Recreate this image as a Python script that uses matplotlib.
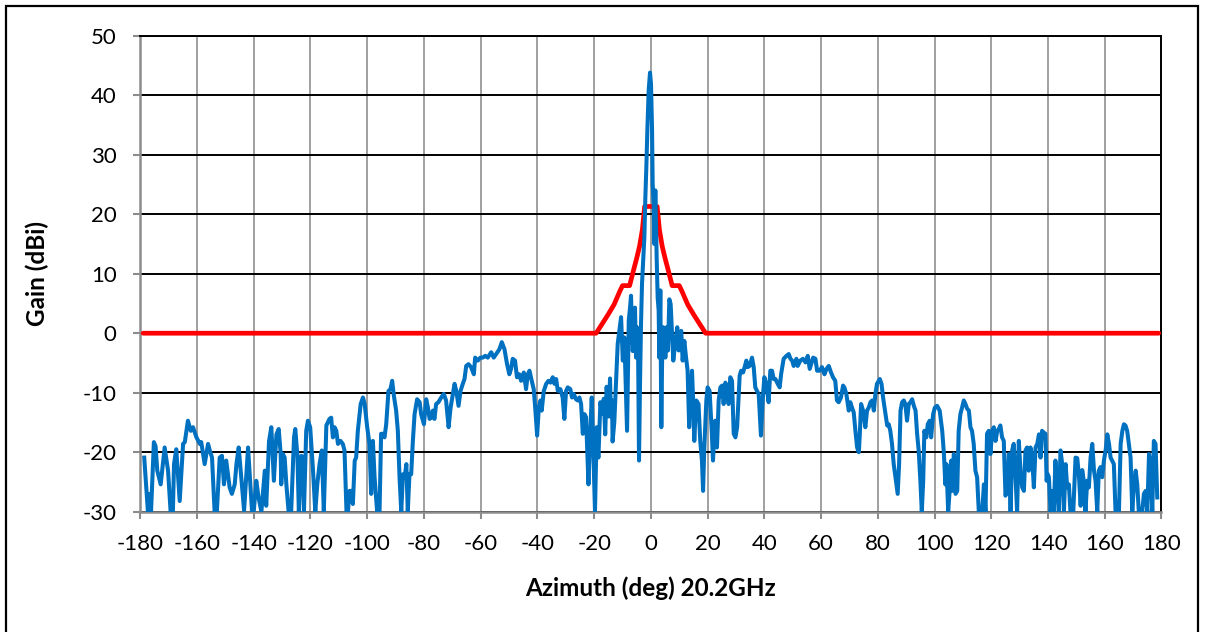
"""Antenna azimuth pattern at 20.2 GHz: measured gain vs. regulatory mask."""

import matplotlib

matplotlib.use("Agg")
import matplotlib.pyplot as plt
import numpy as np
from matplotlib.patches import Rectangle

plt.rcParams["font.family"] = ["Lato", "DejaVu Sans"]
plt.rcParams["axes.unicode_minus"] = False

# measured pattern, left sidelobes (deg, dBi)
left_az = [
    -178.6, -177.3, -176.7, -176.2, -175.2, -174.6, -174.0, -172.8, -171.4, -170.2,
    -169.3, -168.5, -168.1, -167.3, -166.1, -164.9, -164.3, -163.2, -162.2, -161.4,
    -160.2, -159.0, -158.5, -157.3, -156.1, -155.5, -154.7, -153.8, -153.0, -152.0,
    -151.2, -150.5, -149.7, -148.5, -147.7, -146.7, -146.1, -145.3, -144.6, -143.4,
    -142.0, -140.6, -140.0, -139.1, -138.3, -137.3, -136.1, -135.6, -134.6, -133.8,
    -132.9, -132.0, -131.2, -130.5, -130.3, -129.7, -129.1, -128.5, -127.7, -126.8,
    -125.8, -125.35, -124.6, -124.1, -123.2, -122.65, -122.3, -121.5, -120.9, -120.1,
    -119.1, -118.3, -117.6, -116.8, -116.0, -115.3, -114.4, -113.3, -112.7, -112.1,
    -111.5, -110.9, -110.3, -109.4, -108.6, -108.0, -107.3, -106.8, -106.2, -105.4,
    -105.05, -104.4, -103.9, -103.3, -102.3, -101.5, -100.9, -100.0, -99.2, -98.6,
    -98.0, -97.4, -96.5, -95.65, -95.1, -94.5, -93.9, -93.3, -92.5, -91.8,
    -91.2, -90.6, -89.8, -89.2, -88.6, -88.0, -87.4, -86.8, -86.2, -85.7,
    -85.1, -84.5, -83.9, -83.3, -82.4, -81.5, -81.0, -80.0, -79.2, -78.6,
    -78.0, -77.4, -76.85, -76.3, -75.7, -74.9, -73.9, -73.0, -72.2, -71.3,
    -70.6, -69.8, -69.2, -68.6, -67.8, -67.1, -66.3, -65.7, -65.1, -64.3,
    -63.4, -62.4, -61.95, -61.0, -60.1, -59.25, -58.4, -57.5, -56.3, -55.4,
    -54.55, -53.4, -52.55, -51.6, -50.7, -49.9, -49.3, -48.7, -47.9, -47.2,
    -46.4, -45.75, -44.8, -44.0, -43.4, -42.8, -42.0, -41.3, -40.7, -40.1,
    -39.5, -38.9, -38.5, -37.75, -36.9, -36.1, -35.4, -34.6, -34.0, -33.4,
    -32.8, -31.9, -31.1, -30.5, -29.9, -29.3, -28.4, -27.8, -27.2, -26.4,
    -25.8, -25.2, -24.6, -24.0, -23.4, -22.85, -22.0, -21.4, -20.85, -20.26,
]
left_gain = [
    -20.9, -30, -27, -30, -18.3, -19, -23.1, -25.4, -19.2, -23.1,
    -30, -30, -22, -19.5, -28.2, -18.6, -18.3, -14.7, -16.4, -15.8,
    -17.5, -18.6, -18.3, -22, -18.6, -19.7, -20.9, -30, -30, -20.9,
    -20.6, -25.4, -21.4, -25.9, -27, -25.4, -22, -19.2, -23.1, -29.8,
    -19.2, -30, -30, -24.8, -27.6, -30, -23.1, -29, -18.1, -15.8,
    -24.8, -17.0, -16.1, -20.3, -25.4, -20.3, -20.9, -25.4, -30, -30,
    -17.5, -16.1, -20.6, -30, -20.6, -20.9, -30, -16.4, -14.7, -15.8,
    -23.1, -30, -25.4, -22, -19.7, -30, -15.5, -14.4, -14.2, -17.5,
    -15.8, -16.4, -18.6, -18.1, -18.6, -19.7, -30, -30, -26.5, -26.5,
    -28.7, -21.4, -20.9, -16.4, -11.9, -10.8, -11.9, -15.8, -18.6, -27,
    -18.1, -24.2, -30, -30, -16.9, -16.9, -17.5, -15.3, -9.7, -9.4,
    -8.0, -10.5, -13, -16.4, -24.2, -30, -23.7, -24.2, -22, -30,
    -23.7, -23.7, -18.1, -13.6, -11.1, -11.6, -13.6, -15.3, -11.1, -12.5,
    -14.4, -14.2, -13, -14.4, -11.9, -11.6, -10.8, -10.2, -11.3, -15.8,
    -12.5, -10.2, -8.5, -9.7, -12.2, -9.7, -8.5, -7.7, -5.5, -5.2,
    -5.7, -6.9, -4.1, -4.6, -4.1, -4.1, -3.8, -4.1, -3.2, -4.1,
    -3.5, -2.7, -1.5, -2.7, -5.2, -6.9, -6.0, -4.3, -4.6, -7.4,
    -6.9, -8.0, -6.6, -9.4, -6.9, -6.3, -8.0, -9.4, -13.0, -17.2,
    -12.5, -11.3, -13.0, -9.7, -8.5, -8.0, -8.3, -7.4, -8.5, -7.7,
    -9.7, -9.4, -10.8, -14.4, -9.7, -9.1, -9.4, -10.8, -10.2, -11.1,
    -11.3, -10.8, -11.9, -16.9, -13.6, -14.1, -25.4, -16.9, -10.8, -20.3,
]

# measured pattern, main lobe region
main_az = [
    -19.7, -19.1, -18.5, -17.8, -17.2, -16.6, -16.1, -15.6, -14.9, -14.4,
    -14.05, -13.7, -13.5, -12.9, -12.3, -11.7, -11.1, -10.5, -9.9, -9.35,
    -9.0, -8.4, -7.8, -7.35, -7.0, -6.65, -6.4, -6.06, -5.6, -5.24,
    -4.9, -4.5, -4.18, -3.83, -3.48, -3.13, -2.66, -2.3, -1.95, -1.6,
    -1.25, -0.78, -0.31, 0.04, 0.4, 0.63, 0.98, 1.2, 1.57, 2.04,
    2.39, 2.74, 2.98, 3.33, 3.68, 4.03, 4.4, 4.74, 5.1, 5.56,
    6.03, 6.5, 6.97, 7.4, 7.9, 8.4, 8.85, 9.3, 9.8, 10.25,
    10.7, 11.2, 11.8, 12.4, 12.95, 13.5, 13.9,
]
main_gain = [
    -30, -15.8, -20.9, -11.6, -13.5, -11, -17, -9, -14, -7.6,
    -14, -11.3, -18.2, -15, -8.5, -1.8, 0.4, 2.7, -4.6, -0.7,
    -6.3, -16.4, 2.1, 4.3, 6.3, 0.4, -3.0, -1.3, 4.3, -4.1,
    1.0, -3.5, -21.4, -8.5, 1.5, 8.3, 12.7, 16.1, 22.8, 27.9,
    34, 40.8, 43.8, 41.9, 34.6, 25.1, 21.7, 15, 24, 12.7,
    6, 3.8, -4.1, 7.2, -15.8, -1.8, 1.0, -0.1, -4.1, 1.0,
    -2.9, 5.7, 4.9, 0.4, -4.6, -2.4, -0.7, 1.0, -2.9, -0.7,
    0.4, -4.6, -1.3, -4.1, -6.3, -15.8, -11.3,
]

# measured pattern, right sidelobes
right_az = [
    14.5, 14.85, 15.3, 16.0, 16.8, 17.4, 18.0, 18.4, 18.8, 19.55,
    20.0, 20.7, 21.5, 21.9, 22.4, 22.7, 23.3, 23.9, 24.5, 25.1,
    25.65, 26.25, 26.8, 27.4, 28.0, 28.6, 29.2, 29.8, 30.4, 31.3,
    31.8, 32.5, 33.05, 33.65, 34.1, 34.8, 35.65, 36.25, 36.8, 37.4,
    38.0, 38.8, 39.4, 40.0, 40.7, 41.5, 42.1, 42.7, 43.3, 43.9,
    44.7, 45.4, 45.9, 46.8, 47.8, 48.6, 49.2, 49.8, 50.35, 51.3,
    51.75, 52.7, 53.6, 54.5, 55.3, 56.0, 56.5, 57.2, 58.0, 58.6,
    59.5, 60.3, 61.2, 61.9, 62.7, 63.5, 64.2, 65.0, 65.6, 66.2,
    67.0, 67.75, 68.2, 68.9, 69.75, 70.3, 70.9, 71.5, 72.1, 72.7,
    73.3, 73.6, 74.1, 74.8, 75.6, 76.2, 76.8, 77.4, 78.0, 78.6,
    79.15, 79.7, 80.7, 81.3, 81.85, 82.7, 83.3, 83.85, 84.4, 85.0,
    85.6, 86.2, 87.0, 87.5, 88.0, 88.55, 89.15, 89.7, 90.3, 90.9,
    91.5, 92.1, 92.7, 93.3, 93.85, 94.4, 95.0, 95.5, 96.0, 96.4,
    97.1, 97.6, 98.3, 98.8, 99.5, 100.1, 100.9, 101.8, 102.7, 103.3,
    103.8, 104.2, 104.8, 105.4, 105.9, 106.2, 106.8, 107.4, 108.0, 108.5,
    109.1, 109.7, 110.3, 110.9, 111.5, 112.1, 112.65, 113.2, 113.8, 114.4,
    115.0, 115.6, 116.8, 117.4, 117.95, 118.5, 119.1, 119.7, 120.3, 120.9,
    121.5, 122.1, 122.65, 123.2, 123.8, 124.4, 125.0, 125.6, 126.2, 126.8,
    127.35, 127.9, 128.5, 129.1, 129.7, 130.3, 130.9, 131.5, 132.05, 132.6,
    133.2, 133.8, 134.4, 135.0, 135.6, 136.2, 136.8, 137.35, 137.9, 138.5,
    139.1, 139.5, 139.9, 140.3, 140.9, 141.5, 142.05, 142.6, 143.2, 143.8,
    144.4, 145.0, 145.6, 146.2, 146.75, 147.35, 147.9, 148.9, 149.7, 150.3,
    150.9, 151.5, 152.05, 152.6, 153.2, 153.8, 154.4, 155.0, 155.6, 156.2,
    156.75, 157.35, 157.9, 158.5, 159.1, 159.7, 160.3, 160.9, 161.5, 162.05,
    162.6, 163.2, 163.8, 165.0, 165.6, 166.2, 166.75, 167.3, 167.9, 168.5,
    169.1, 169.7, 170.3, 170.9, 171.45, 172.0, 173.2, 173.8, 174.4, 175.0,
    175.6, 176.15, 176.75, 177.3, 177.9, 178.5,
]
right_gain = [
    -6.3, -10.8, -18.1, -11.3, -11.9, -18.1, -21.4, -26.5, -19.7, -11.3,
    -9.1, -9.7, -16.9, -21.4, -16.4, -14.7, -19.2, -11.3, -9.1, -8.8,
    -11.9, -8.3, -9.1, -11.9, -7.4, -8.0, -16.9, -17.5, -15.8, -7.1,
    -6.3, -6.6, -5.7, -4.6, -5.7, -5.5, -4.1, -5.7, -9.1, -9.7,
    -10.2, -17.2, -11.3, -7.4, -8.5, -11.6, -6.3, -6.3, -7.7, -7.7,
    -8.5, -9.1, -6.9, -4.3, -3.8, -3.5, -4.3, -4.6, -5.5, -4.3,
    -5.5, -4.6, -4.3, -4.9, -3.8, -6.0, -5.2, -4.1, -4.3, -6.3,
    -6.3, -5.7, -6.9, -6.0, -5.5, -6.6, -7.4, -8.0, -11.3, -11.6,
    -10.8, -8.8, -9.1, -10.2, -13.0, -11.6, -12.5, -13.3, -16.4, -19.2,
    -20.0, -17.5, -11.9, -13.0, -15.8, -13.0, -12.5, -11.6, -11.3, -13.0,
    -10.2, -8.5, -7.7, -8.5, -10.8, -13.6, -15.5, -15.3, -16.4, -18.6,
    -22.0, -24.2, -27.0, -22.0, -13.0, -11.6, -11.3, -11.9, -14.7, -11.9,
    -11.6, -11.1, -12.2, -13.0, -16.9, -19.7, -24.8, -30, -24.8, -16.4,
    -17.5, -15.3, -14.7, -17.5, -13.6, -12.5, -12.2, -13.0, -16.4, -20.3,
    -25.4, -22.0, -30, -25.9, -21.4, -26.5, -20.3, -27.0, -26.5, -16.4,
    -13.6, -12.5, -11.3, -11.9, -12.7, -13.0, -15.8, -16.4, -18.6, -23.1,
    -24.2, -30, -30, -25.4, -30, -16.9, -16.4, -20.3, -16.4, -15.8,
    -18.1, -16.4, -16.1, -15.5, -17.5, -18.1, -27.3, -26.5, -20.3, -30,
    -19.7, -18.6, -23.7, -30, -18.1, -23.1, -25.9, -26.5, -19.7, -19.2,
    -23.1, -19.2, -20.9, -25.9, -19.2, -18.6, -17.0, -20.9, -16.4, -16.7,
    -16.9, -24.8, -23.7, -24.2, -30, -26.5, -30, -21.4, -25.9, -30,
    -19.7, -22.0, -30, -22.0, -25.9, -25.4, -30, -30, -20.9, -21.0,
    -24.0, -29, -23, -24.8, -30, -24.8, -25.9, -20.9, -18.6, -23.1,
    -24.8, -30, -23.1, -22.5, -24.2, -21.4, -19.7, -17.0, -18.6, -20.9,
    -21.4, -22.0, -30, -30, -18.6, -16.4, -15.3, -15.5, -16.4, -18.6,
    -20.9, -30, -25.4, -23.1, -25.4, -30, -30, -27.0, -26.5, -30,
    -20.3, -22.0, -30, -18.1, -18.6, -27.6,
]

# gain mask
mask_az = [-179, -19.3, -17, -15, -13, -11, -10, -7.5, -6, -5, -4, -3, -2.2,
           2.2, 3, 4, 5, 6, 7.5, 10, 11, 13, 15, 17, 19.3, 179]
mask_gain = [0, 0, 1.7, 3.2, 4.8, 7, 8, 8, 10.8, 12.6, 14.6, 17.4, 21.3,
             21.3, 17.4, 14.6, 12.6, 10.8, 8, 8, 7, 4.8, 3.2, 1.7, 0, 0]

x_ticks = list(range(-180, 181, 20))
y_ticks = list(range(-30, 51, 10))

az = np.array(left_az + main_az + right_az)
gain = np.array(left_gain + main_gain + right_gain)

fig = plt.figure(figsize=(12.05, 6.32), dpi=100)
ax = fig.add_axes([0.1164, 0.1903, 0.8475, 0.7532])

ax.plot(mask_az, mask_gain, color="#FF0000", lw=3.4, solid_capstyle="round", zorder=3)
ax.plot(az, gain, color="#0070C0", lw=2.9, solid_joinstyle="round", zorder=4)

ax.set_xlim(-180, 180)
ax.set_ylim(-30, 50)
ax.set_xticks(x_ticks)
ax.set_yticks(y_ticks)
ax.tick_params(axis="both", labelsize=16, length=5, width=1.5, color="#8C8C8C")
ax.tick_params(axis="y", pad=12)
ax.tick_params(axis="x", pad=11)

ax.grid(axis="y", color="black", lw=1.4)
ax.grid(axis="x", color="#A0A0A0", lw=1.4)
ax.set_axisbelow(True)

for side in ("left", "bottom"):
    ax.spines[side].set_color("#8C8C8C")
    ax.spines[side].set_linewidth(1.8)
for side in ("top", "right"):
    ax.spines[side].set_color("black")
    ax.spines[side].set_linewidth(1.4)

ax.set_xlabel("Azimuth (deg) 20.2GHz", fontsize=17.5, fontweight="bold", labelpad=16)
ax.set_ylabel("Gain (dBi)", fontsize=17.5, fontweight="bold", labelpad=24)

# chart border, bottom edge runs past the canvas
fig.patches.append(
    Rectangle((6 / 1205, -4 / 632), 1192 / 1205, 630 / 632, transform=fig.transFigure,
              fill=False, edgecolor="black", lw=1.6)
)

fig.savefig("out.png", dpi=100)
